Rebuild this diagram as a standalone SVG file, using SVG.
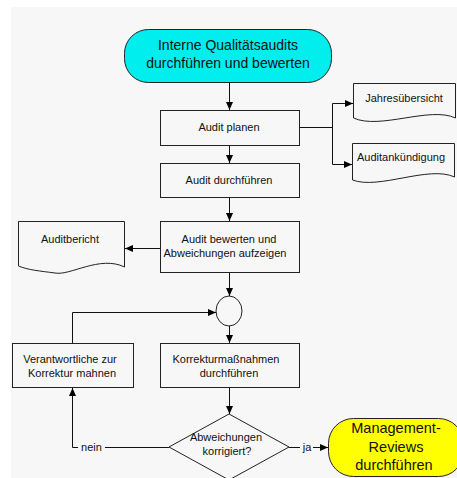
<svg xmlns="http://www.w3.org/2000/svg" width="457" height="478" viewBox="0 0 457 478">
<defs>
<marker id="arr" viewBox="0 0 8 8" refX="8" refY="4" markerWidth="8" markerHeight="8" markerUnits="userSpaceOnUse" orient="auto">
<path d="M0,0.5 L8,4 L0,7.5 Z" fill="#000"/>
</marker>
<style>
.bg{fill:#f7f7f7}
.box{fill:#f7f7f7;stroke:#222;stroke-width:1}
.doc{fill:#f7f7f7;stroke:#222;stroke-width:1}
.t{font-family:"Liberation Sans",Arial,sans-serif;font-size:11px;fill:#111;text-anchor:middle}
.big{font-family:"Liberation Sans",Arial,sans-serif;font-size:14px;fill:#111;text-anchor:middle}
.c{fill:none;stroke:#111;stroke-width:1}
</style>
</defs>
<rect class="bg" x="11" y="7" width="446" height="471"/>

<g id="start">
<rect x="124.5" y="29.5" width="207" height="53" rx="24" ry="24" fill="#00eeee" stroke="#222"/>
<text class="big" x="228" y="50">Interne Qualitätsaudits</text>
<text class="big" x="228" y="68">durchführen und bewerten</text>
</g>

<g id="planen">
<rect class="box" x="160.5" y="110.5" width="139" height="35"/>
<text class="t" x="229" y="131">Audit planen</text>
</g>

<g id="jahres">
<path class="doc" d="M353.5,83.5 H455.5 V118 C430,106 380,130 353.5,118 Z"/>
<text class="t" x="404" y="102">Jahresübersicht</text>
</g>

<g id="ankuendigung">
<path class="doc" d="M352.5,143.5 H454.5 V177 C429,165 379,190 352.5,180 Z"/>
<text class="t" x="401" y="161">Auditankündigung</text>
</g>

<g id="durchfuehren">
<rect class="box" x="160.5" y="163.5" width="139" height="34"/>
<text class="t" x="229" y="184">Audit durchführen</text>
</g>

<g id="bewerten">
<rect class="box" x="160.5" y="221.5" width="139" height="51"/>
<text class="t" x="229" y="243">Audit bewerten und</text>
<text class="t" x="225" y="257">Abweichungen aufzeigen</text>
</g>

<g id="auditbericht">
<path class="doc" d="M18.5,221.5 H124.5 V267 C100,255 70,276 55,273 C40,271 28,270 18.5,266 Z"/>
<text class="t" x="70" y="243">Auditbericht</text>
</g>

<g id="merge">
<ellipse cx="229" cy="311" rx="13" ry="15" fill="#f7f7f7" stroke="#222"/>
</g>

<g id="korrektur">
<rect class="box" x="160.5" y="343.5" width="139" height="44"/>
<text class="t" x="226" y="363">Korrekturmaßnahmen</text>
<text class="t" x="229" y="377">durchführen</text>
</g>

<g id="mahnen">
<rect class="box" x="12.5" y="343.5" width="121" height="44"/>
<text class="t" x="70" y="363">Verantwortliche zur</text>
<text class="t" x="72" y="377">Korrektur mahnen</text>
</g>

<g id="entscheidung">
<path class="box" d="M229,414 L289,447 L229,480 L169,447 Z"/>
<text class="t" x="226" y="441">Abweichungen</text>
<text class="t" x="227" y="455">korrigiert?</text>
</g>

<g id="review">
<rect x="328.5" y="418.5" width="135" height="58" rx="25" ry="25" fill="#ffff00" stroke="#222"/>
<text class="big" x="396" y="433" style="font-size:14.5px">Management-</text>
<text class="big" x="396" y="452" style="font-size:14.5px">Reviews</text>
<text class="big" x="394" y="470" style="font-size:14.5px">durchführen</text>
</g>

<g id="connectors">
<path class="c" d="M229.5,82.5 V110" marker-end="url(#arr)"/>
<path class="c" d="M229.5,145.5 V163" marker-end="url(#arr)"/>
<path class="c" d="M229.5,197.5 V221" marker-end="url(#arr)"/>
<path class="c" d="M160,248.5 H125" marker-end="url(#arr)"/>
<path class="c" d="M229.5,272.5 V296" marker-end="url(#arr)"/>
<path class="c" d="M229.5,326 V343" marker-end="url(#arr)"/>
<path class="c" d="M229.5,387.5 V414" marker-end="url(#arr)"/>
<path class="c" d="M299.5,127.5 H332.5"/>
<path class="c" d="M332.5,103.5 V164.5"/>
<path class="c" d="M332.5,103.5 H353" marker-end="url(#arr)"/>
<path class="c" d="M332.5,164.5 H352" marker-end="url(#arr)"/>
<path class="c" d="M169,447.5 H105"/>
<path class="c" d="M78,447.5 H72.5 V388" marker-end="url(#arr)"/>
<path class="c" d="M72.5,343 V312.5 H216" marker-end="url(#arr)"/>
<path class="c" d="M289,447.5 H300"/>
<path class="c" d="M313,447.5 H328" marker-end="url(#arr)"/>
<text class="t" x="91.5" y="451">nein</text>
<text class="t" x="307" y="451">ja</text>
</g>
</svg>
